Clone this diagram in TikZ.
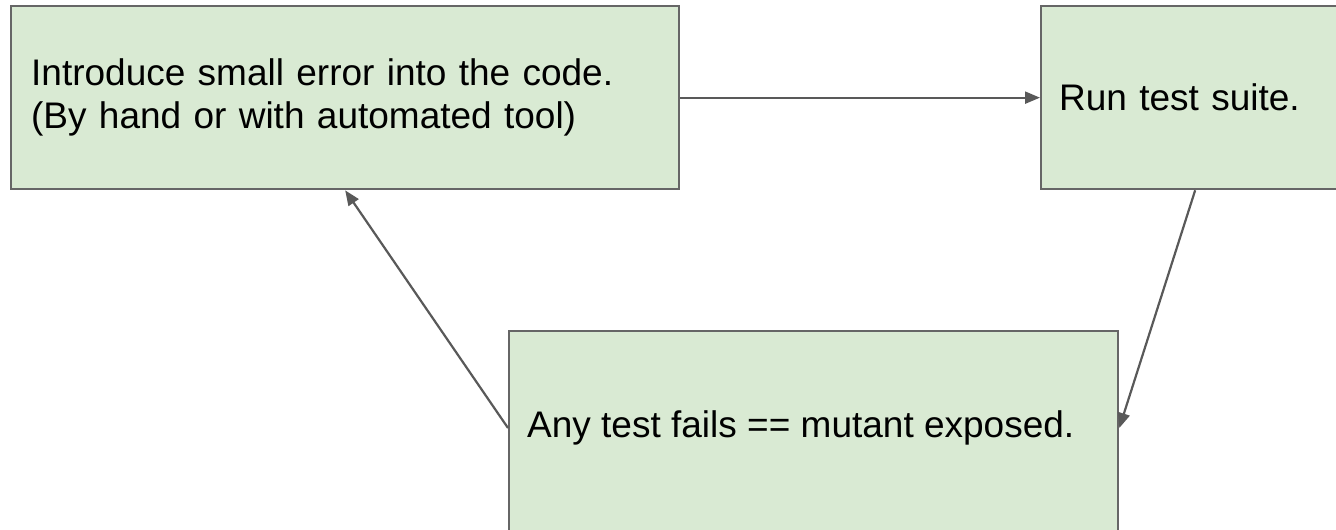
\documentclass[tikz,border=0pt]{standalone}
\usepackage{fontspec}
\setmainfont{Liberation Sans}
\usetikzlibrary{arrows.meta,calc}
\definecolor{boxfill}{HTML}{D9EAD3}
\definecolor{boxline}{HTML}{666666}
\definecolor{wire}{HTML}{595959}
\tikzset{
  stepbox/.style={draw=boxline, line width=2.3pt, fill=boxfill, rectangle,
    anchor=north west, inner ysep=0pt, align=left,
    font=\fontsize{37}{43.5}\selectfont},
  label text/.style={anchor=west, inner sep=0pt, align=left,
    font=\fontsize{37}{43.5}\selectfont},
  flow/.style={draw=wire, line width=2.2pt,
    -{Triangle[length=15pt,width=12pt]}}
}
\begin{document}
\begin{tikzpicture}[x=1pt,y=-1pt]
  \useasboundingbox (0,0) rectangle (1336,530);
  \clip (0,0) rectangle (1336,530);

  % mutate step
  \node[stepbox, minimum width=668pt, minimum height=183pt,
        inner xsep=20pt, text width=628pt] (b1) at (10,5)
    {Introduce small error into the code.\\(By hand or with automated tool)};

  % run the tests
  \node[stepbox, minimum width=308pt, minimum height=183pt,
        inner xsep=18pt, text width=272pt] (b2) at (1040,5)
    {Run test suite.};

  % outcome (runs below the lower edge)
  \node[stepbox, minimum width=609pt, minimum height=230pt] (b3) at (508,330) {};
  \node[label text] (t3) at (527,428) {Any test fails == mutant exposed.};

  \draw[flow] (b1.east) -- (b2.west);
  \draw[flow] (b2.south) -- (b3.east |- t3.west);
  \draw[flow] (b3.west |- t3.west) -- (b1.south);
\end{tikzpicture}
\end{document}
